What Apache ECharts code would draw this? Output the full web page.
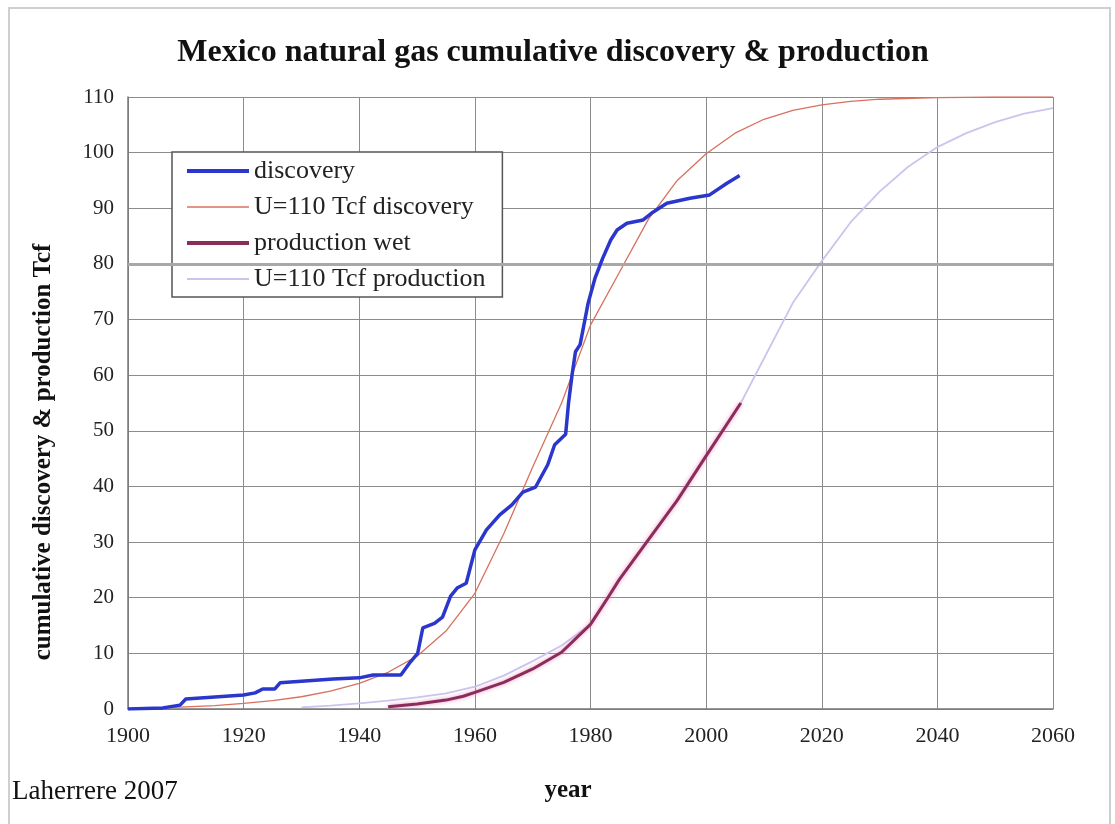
<!DOCTYPE html>
<html>
<head>
<meta charset="utf-8">
<script src="https://cdn.jsdelivr.net/npm/echarts@6/dist/echarts.min.js"></script>
<style>
html,body{margin:0;padding:0;background:#fff;}
#chart{width:1115px;height:824px;}
</style>
</head>
<body>
<div id="chart"></div>
<script>
// ---- data ----
var xTicks = [1900, 1920, 1940, 1960, 1980, 2000, 2020, 2040, 2060];
var yTicks = [0, 10, 20, 30, 40, 50, 60, 70, 80, 90, 100, 110];

var discoveryYears = [1900,1906,1909,1910,1920,1922,1923.3,1925.4,1926.3,1935.5,1940,1942.4,1947.2,1948.8,1950.1,1951,1953,1954.4,1955.8,1957,1958.5,1960,1962,1964.3,1966.4,1968.3,1970.5,1972.6,1973.8,1975.7,1976.2,1976.8,1977.4,1978.2,1979.6,1980.8,1982.1,1983.5,1984.6,1986.3,1989.1,1990.8,1993.2,1997.2,2000.6,2003.6,2005.8];
var discoveryValues = [0,0.2,0.7,1.8,2.5,2.9,3.6,3.6,4.7,5.4,5.6,6.1,6.1,8.4,10,14.6,15.4,16.5,20.3,21.8,22.6,28.6,32.2,34.9,36.7,39,39.9,43.9,47.5,49.4,55,60,64.2,65.5,73,77.5,81,84.3,86.1,87.3,87.9,89.3,90.9,91.8,92.4,94.5,95.9];

var uDiscYears = [1900,1905,1910,1915,1920,1925,1930,1935,1940,1945,1950,1955,1960,1965,1970,1975,1980,1985,1990,1995,2000,2005,2010,2015,2020,2025,2030,2040,2050,2060];
var uDiscValues = [0.1,0.2,0.4,0.6,1.0,1.5,2.2,3.2,4.6,6.6,9.5,14,20.8,31.5,43.5,55,69,78.5,88,95,99.8,103.5,106,107.6,108.6,109.2,109.6,109.9,110,110];

var prodYears = [1945,1950,1955,1958,1960,1965,1970,1975,1980,1983,1985,1990,1995,2000,2006];
var prodValues = [0.4,0.9,1.6,2.3,3.0,4.8,7.2,10.2,15.2,20.0,23.3,30.4,37.5,45.5,55];

var uProdYears = [1930,1935,1940,1945,1950,1955,1960,1965,1970,1975,1980,1985,1990,1995,2000,2006,2010,2015,2020,2025,2030,2035,2040,2045,2050,2055,2060];
var uProdValues = [0.3,0.6,1.0,1.5,2.1,2.8,4.0,6.0,8.6,11.4,15.2,23.3,30.4,37.5,45.5,55,63,73,80.5,87.5,93,97.5,101,103.5,105.5,107,108];

var seriesNames = ['discovery', 'U=110 Tcf discovery', 'production wet', 'U=110 Tcf production'];
var legendLineWidths = [4, 1.5, 4, 2];

function pairs(xs, ys) { return xs.map(function (x, i) { return [x, ys[i]]; }); }

var serif = 'Liberation Serif, Times New Roman, serif';
var chart = echarts.init(document.getElementById('chart'));
chart.setOption({
  backgroundColor: '#ffffff',
  animation: false,
  title: {
    text: 'Mexico natural gas cumulative discovery & production',
    left: 548, textAlign: 'center', top: 32,
    textStyle: { fontFamily: serif, fontWeight: 'bold', fontSize: 32, color: '#111' }
  },
  graphic: [
    { type: 'rect', shape: { x: 9, y: 8, width: 1101, height: 830 }, style: { fill: 'none', stroke: '#cfcfcf', lineWidth: 2 }, silent: true },
    { type: 'text', x: 12, y: 792, style: { text: 'Laherrere 2007', font: '27px ' + serif, fill: '#111', verticalAlign: 'middle' } },
    { type: 'text', x: 568, y: 791, style: { text: 'year', font: 'bold 25px ' + serif, fill: '#111', align: 'center', verticalAlign: 'middle' } },
    { type: 'text', x: 44, y: 452, rotation: Math.PI / 2, style: { text: 'cumulative discovery & production Tcf', font: 'bold 25px ' + serif, fill: '#111', align: 'center', verticalAlign: 'middle' } }
  ],
  legend: {
    data: seriesNames.map(function (n, i) { return { name: n, lineStyle: { width: legendLineWidths[i] } }; }),
    orient: 'vertical',
    left: 172, top: 152,
    backgroundColor: '#fff',
    borderColor: '#555', borderWidth: 1.5,
    padding: [6, 17, 5, 13],
    itemWidth: 62, itemHeight: 14, itemGap: 10,
    itemStyle: { opacity: 0 },
    textStyle: { fontFamily: serif, fontSize: 26, lineHeight: 26, color: '#222' }
  },
  grid: { left: 128, right: 62, top: 97, bottom: 115 },
  xAxis: {
    type: 'value', min: 1900, max: 2060, interval: 20,
    axisLine: { lineStyle: { color: '#777', width: 1.5 } },
    axisTick: { show: false },
    axisLabel: { fontFamily: serif, fontSize: 22, color: '#222', margin: 16,
      formatter: function (v) { return xTicks.indexOf(v) >= 0 ? String(v) : ''; } },
    splitLine: { show: true, lineStyle: { color: '#8c8c8c', width: 1 } }
  },
  yAxis: {
    type: 'value', min: 0, max: 110, interval: 10,
    axisLine: { show: true, lineStyle: { color: '#777', width: 1.5 } },
    axisTick: { show: false },
    axisLabel: { fontFamily: serif, fontSize: 21, color: '#222', margin: 14,
      formatter: function (v) { return yTicks.indexOf(v) >= 0 ? String(v) : ''; } },
    splitLine: { show: true, lineStyle: { color: '#8c8c8c', width: 1 } }
  },
  series: [
    {
      name: 'U=110 Tcf production', type: 'line', symbol: 'none', z: 2,
      data: pairs(uProdYears, uProdValues),
      lineStyle: { color: '#c9c6ee', width: 1.8 }, itemStyle: { color: '#c9c6ee' },
      markLine: { silent: true, symbol: 'none', label: { show: false },
        lineStyle: { color: '#a8a8a8', width: 3, type: 'solid' }, data: [{ yAxis: 80 }] }
    },
    {
      name: 'production wet', type: 'line', symbol: 'none', z: 3,
      data: pairs(prodYears, prodValues),
      lineStyle: { color: '#8a2c5c', width: 3, shadowColor: 'rgba(235,130,180,0.8)', shadowBlur: 4 },
      itemStyle: { color: '#8a2c5c' }
    },
    {
      name: 'U=110 Tcf discovery', type: 'line', symbol: 'none', z: 4,
      data: pairs(uDiscYears, uDiscValues),
      lineStyle: { color: '#d8705e', width: 1.3 }, itemStyle: { color: '#d8705e' }
    },
    {
      name: 'discovery', type: 'line', symbol: 'none', z: 5,
      data: pairs(discoveryYears, discoveryValues),
      lineStyle: { color: '#2a36cc', width: 3.5 }, itemStyle: { color: '#2a36cc' }
    }
  ]
});
</script>
</body>
</html>
